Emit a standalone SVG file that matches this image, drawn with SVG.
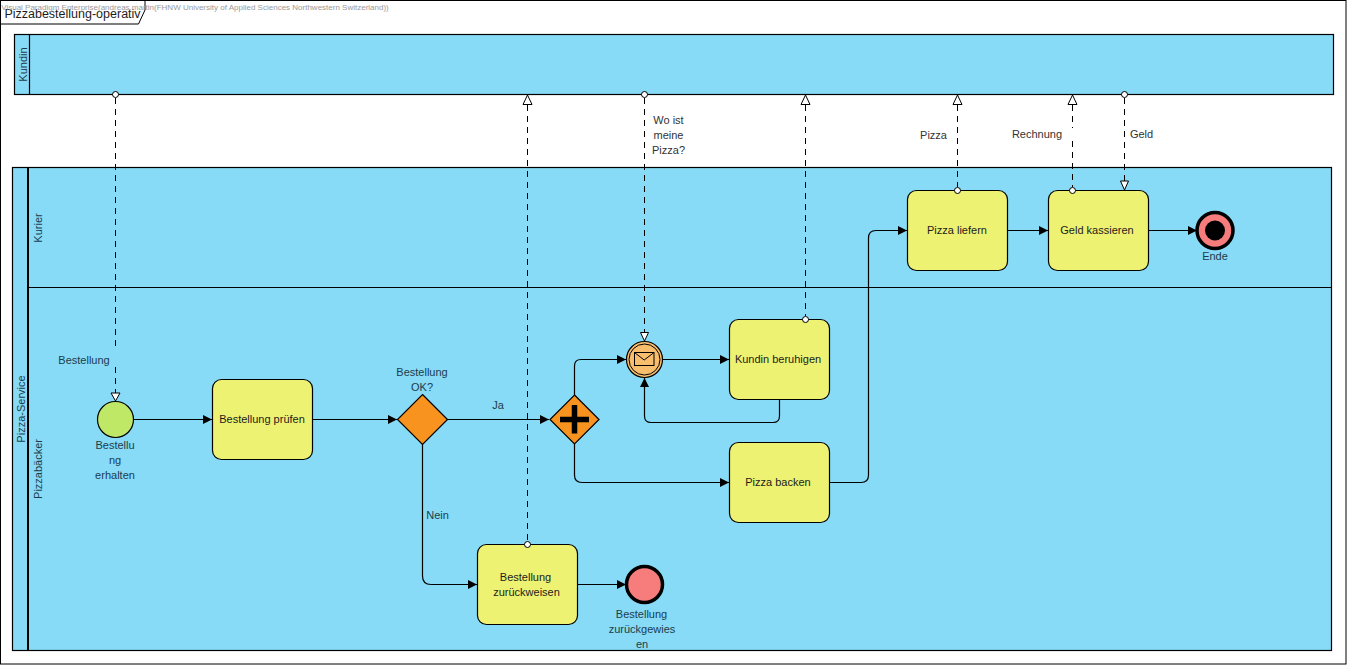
<svg xmlns="http://www.w3.org/2000/svg" width="1347" height="665" viewBox="0 0 1347 665">
<style>
text{font-family:"Liberation Sans",Arial,sans-serif;font-size:11px;fill:#1c1c1c;text-anchor:middle}
.pool{fill:#87dbf6;stroke:#000;stroke-width:1.2}
.ln{fill:none;stroke:#000;stroke-width:1.2}
.task{fill:#eef272;stroke:#000;stroke-width:1.2}
.flow{fill:none;stroke:#000;stroke-width:1.2;marker-end:url(#seq)}
.msg{fill:none;stroke:#000;stroke-width:1;stroke-dasharray:6 5}
.dot{fill:#fff;stroke:#000;stroke-width:1}
.open{fill:#fff;stroke:#000;stroke-width:1}
.lane{fill:#1c3c4c}
.out{fill:#333}
</style>
<defs>
<marker id="seq" markerUnits="userSpaceOnUse" markerWidth="10" markerHeight="10" refX="9" refY="5" orient="auto"><path d="M0 0.5L9 5L0 9.5Z" fill="#000"/></marker>
</defs>
<rect width="1347" height="665" fill="#fff"/>
<rect x="0.5" y="0.5" width="1345.500" height="663.500" fill="none" stroke="#000"/>
<g id="frame-title"><path d="M0.500 0.500H145L145 10L138.500 24H0.500" fill="none" stroke="#000"/><text x="72.500" y="18" style="font-size:12.500px">Pizzabestellung-operativ</text></g>
<text x="195" y="10" style="font-size:8px;fill:#9a9a9a">Visual Paradigm Enterprise(andreas.martin(FHNW University of Applied Sciences Northwestern Switzerland))</text>
<g id="pool-kundin"><rect class="pool" x="14.500" y="34.500" width="1319" height="60"/><path class="ln" d="M29.500 34.500V94.500"/><text transform="translate(27 64.500) rotate(-90)" class="lane">Kundin</text></g>
<g id="pool-pizza-service"><rect class="pool" x="12.500" y="167.500" width="1319" height="483"/><path d="M28 167.500V650.500" fill="none" stroke="#000" stroke-width="2"/><path class="ln" d="M28 287.500H1331.500"/><text transform="translate(25 409) rotate(-90)" class="lane">Pizza-Service</text>
<text transform="translate(42 228) rotate(-90)" class="lane">Kurier</text><text transform="translate(42 469) rotate(-90)" class="lane">Pizzabäcker</text></g>
<g id="start-event"><circle cx="115.500" cy="419.500" r="18" fill="#bfe866" stroke="#000" stroke-width="1.200"/><text x="115" y="449" class="lane">Bestellu</text><text x="115" y="464" class="lane">ng</text><text x="115" y="479" class="lane">erhalten</text></g>
<g id="task-pruefen"><rect class="task" x="212.500" y="379.500" width="100" height="80" rx="9"/><text x="262" y="423">Bestellung prüfen</text></g>
<g id="gateway-ok"><path d="M422.500 394.500L447.500 419.500L422.500 444.500L397.500 419.500Z" fill="#f7931e" stroke="#000" stroke-width="1.200"/><text x="422" y="376" class="lane">Bestellung</text><text x="422" y="391" class="lane">OK?</text></g>
<g id="gateway-parallel"><path d="M574.500 395L599 419.500L574.500 444L550 419.500Z" fill="#f7931e" stroke="#000" stroke-width="1.200"/><path d="M574.500 405V433.500M560 419.500H589" fill="none" stroke="#000" stroke-width="5.500"/></g>
<g id="event-message"><circle cx="644.500" cy="359.500" r="18" fill="#f9bd6e" stroke="#000" stroke-width="1.200"/><circle cx="644.500" cy="359.500" r="15.500" fill="none" stroke="#000" stroke-width="1"/><rect x="634.500" y="352.500" width="19.500" height="13" fill="none" stroke="#000" stroke-width="1"/><path d="M634.500 352.500L644.200 360L654 352.500" fill="none" stroke="#000" stroke-width="1"/></g>
<g id="task-beruhigen"><rect class="task" x="729.500" y="319.500" width="100" height="80" rx="9"/><text x="778" y="363">Kundin beruhigen</text></g>
<g id="task-backen"><rect class="task" x="729.500" y="442.500" width="100" height="80" rx="9"/><text x="778" y="486">Pizza backen</text></g>
<g id="task-liefern"><rect class="task" x="907.500" y="190.500" width="100" height="80" rx="9"/><text x="957" y="234">Pizza liefern</text></g>
<g id="task-kassieren"><rect class="task" x="1048.500" y="190.500" width="100" height="80" rx="9"/><text x="1097" y="234">Geld kassieren</text></g>
<g id="end-ende"><circle cx="1215" cy="230.500" r="18" fill="#f77d7d" stroke="#000" stroke-width="3.500"/><circle cx="1215" cy="230.500" r="10" fill="#000"/><text x="1215" y="260" class="lane">Ende</text></g>
<g id="task-zurueckweisen"><rect class="task" x="477.500" y="544.500" width="100" height="80" rx="9"/><text x="525.500" y="581">Bestellung</text><text x="526.500" y="596">zurückweisen</text></g>
<g id="end-zurueckgewiesen"><circle cx="644.500" cy="584.500" r="18" fill="#f77d7d" stroke="#000" stroke-width="3.500"/><text x="641.500" y="618" class="lane">Bestellung</text><text x="642" y="633" class="lane">zurückgewies</text><text x="642" y="648" class="lane">en</text></g>
<g id="connectors">
<path class="flow" d="M133 419.500H212"/>
<path class="flow" d="M313 419.500H397"/>
<path class="flow" d="M447 419.500H549"/>
<path class="flow" d="M574.500 395V366Q574.500 359.500 581 359.500H626"/>
<path class="flow" d="M574.500 444V475Q574.500 482.500 582 482.500H729"/>
<path class="flow" d="M662 359.500H729"/>
<path class="flow" d="M779.500 399.500V416Q779.500 422.500 773 422.500H651Q644.500 422.500 644.500 416V378"/>
<path class="flow" d="M830 482.500H861Q868.500 482.500 868.500 475V238Q868.500 230.500 876 230.500H907"/>
<path class="flow" d="M1008 230.500H1048"/>
<path class="flow" d="M1149 230.500H1197"/>
<path class="flow" d="M422.500 444V576Q422.500 584.500 431 584.500H477"/>
<path class="flow" d="M578 584.500H626"/>
<path class="msg" d="M115.500 98V349M115.500 367V393"/>
<path class="msg" d="M527.500 105V541"/>
<path class="msg" d="M644.500 98V332"/>
<path class="msg" d="M805.500 105V316"/>
<path class="msg" d="M957.500 105V187"/>
<path class="msg" d="M1072.500 105V128M1072.500 141V187"/>
<path class="msg" d="M1124.500 98V181"/>
<circle class="dot" cx="115.500" cy="94.500" r="3"/><path class="open" d="M115.500 401L111 393H120Z"/>
<path class="open" d="M527.500 95L523 104.500H532Z"/><circle class="dot" cx="527.500" cy="544.500" r="3"/>
<circle class="dot" cx="644.500" cy="94.500" r="3"/><path class="open" d="M644.500 341L640.500 332.500H648.500Z"/>
<path class="open" d="M805.500 95L801 104.500H810Z"/><circle class="dot" cx="805.500" cy="319.500" r="3"/>
<path class="open" d="M957.500 95L953 104.500H962Z"/><circle class="dot" cx="957.500" cy="190.500" r="3"/>
<path class="open" d="M1072.500 95L1068 104.500H1077Z"/><circle class="dot" cx="1072.500" cy="190.500" r="3"/>
<circle class="dot" cx="1124.500" cy="94.500" r="3"/><path class="open" d="M1124.500 190L1120.500 181H1128.500Z"/>
<text x="84" y="364" class="lane">Bestellung</text>
<text x="668.500" y="124" class="out">Wo ist</text><text x="668.500" y="139" class="out">meine</text><text x="668.500" y="154" class="out">Pizza?</text>
<text x="933.500" y="139" class="out">Pizza</text>
<text x="1037" y="138" class="out">Rechnung</text>
<text x="1141.500" y="138" class="out">Geld</text>
<text x="498" y="409" class="lane">Ja</text>
<text x="437.500" y="519" class="lane">Nein</text>
</g>
</svg>
